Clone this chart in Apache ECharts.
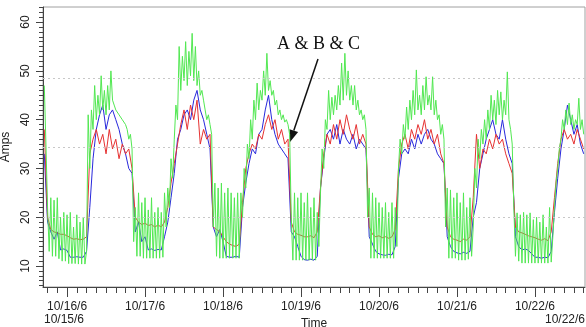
<!DOCTYPE html>
<html>
<head>
<meta charset="utf-8">
<script src="https://cdn.jsdelivr.net/npm/echarts@6/dist/echarts.min.js"></script>
<style>
html,body{margin:0;padding:0;background:#fff;}
#c{width:586px;height:327px;}
</style>
</head>
<body>
<div id="c"></div>
<script>
// Time in hours after 10/15/6 00:00
const startHour = 17;
const axisMinHour = 16.6;
const axisMaxHour = 183.4;
const dayHours = [24, 48, 72, 96, 120, 144, 168];
const dayLabels = ['10/16/6', '10/17/6', '10/18/6', '10/19/6', '10/20/6', '10/21/6', '10/22/6'];
const startLabel = '10/15/6';
const endLabel = '10/22/6';
const yTickValues = [10, 20, 30, 40, 50, 60];
const gridValues = [48.5, 34.3, 20];

// Red (hourly, from h17)
const redValues = [
  38, 20,
  17.5, 17, 16.8, 16.5, 16.5, 16.2, 15.8, 15.5, 15.6, 15.4, 15.5, 16,
  33, 36, 38, 35, 37, 33, 38, 34, 36, 32, 35, 33, 34, 30,
  20, 19, 18.5, 18.8, 18.3, 18.5, 18, 18.4, 18, 19,
  22, 27, 31, 35, 39, 42, 38, 43, 40, 44, 35, 38, 36, 37,
  18, 17.5, 17, 16, 15, 14.5, 14.2, 14, 14.5,
  23, 30, 33, 35, 34, 37, 36, 39, 41, 38, 40, 36, 38, 35, 36,
  19, 17, 16.5, 16.3, 16, 16, 16.2, 15.8, 17,
  26, 33, 37, 35, 39, 36, 40, 37, 41, 38, 36, 39, 35, 37, 35,
  18, 16.5, 16, 16.2, 15.8, 16, 15.7, 16, 17.5,
  30, 35, 37, 34, 38, 36, 39, 37, 40, 36, 38, 35, 37, 33, 31,
  18, 16, 15.5, 15.3, 15, 15.5, 15.3, 16,
  24, 37, 30, 34, 33, 36, 34, 37, 35, 36, 33, 31, 29,
  18, 17, 16.8, 16.5, 16.2, 16, 15.8, 15.5, 15.3, 15.6, 15.2, 17,
  24, 31, 36, 38, 36, 37, 35, 38, 36, 34
];

// Blue (hourly, from h17)
const blueValues = [
  33, 19,
  17, 15.5, 17, 13.3, 13.5, 13.2, 11.8, 11.8, 11.9, 11.8, 11.8, 13,
  22, 32, 38, 41, 43, 38, 41, 42, 40, 38, 35, 33, 30, 29,
  17, 19, 15, 16, 13.3, 13.5, 13.2, 13.4, 13.3, 16,
  19, 24, 29, 36, 38, 41, 42, 40, 44, 46, 42, 40, 37, 34,
  18, 16, 17.5, 15, 12, 11.8, 11.8, 12, 11.8,
  22, 27, 31, 34, 33, 37, 38, 42, 45, 40, 37, 35, 34, 33, 32,
  17, 16, 14, 12, 11.3, 11.2, 11.4, 11.2, 12,
  26, 32, 37, 38, 36, 39, 35, 38, 36, 35, 37, 34, 36, 35, 34,
  16, 14.5, 13, 12.5, 12.3, 12.2, 12.4, 12.3, 14,
  28, 33, 34, 33, 36, 34, 37, 35, 37, 38, 36, 35, 33, 32, 31,
  16, 14, 13, 12.7, 12.5, 12.8, 12.6, 13,
  20, 23, 30, 33, 36, 38, 40, 37, 36, 40, 36, 33, 31,
  16, 14, 13.3, 13.5, 13.2, 12.5, 11.8, 11.8, 11.6, 11.8, 11.7, 13,
  21, 28, 34, 38, 43, 40, 37, 39, 35, 33
];

// Green (half-hourly, from h17)
const greenValues = [
  47, 35, 22, 13,
  24, 12, 23.5, 12, 24, 11.5, 20, 11, 21, 11, 20.5, 10.5, 21, 10.5, 18, 10.5, 20.5, 10.4, 19, 10.4, 20, 10.4, 13,
  41, 30, 42, 38, 47, 40, 45, 41, 49, 42, 46, 41, 47, 42, 50, 44, 43, 42, 42, 41, 41, 40, 40, 39, 38, 36, 37, 34,
  15, 22, 12, 25, 12, 23, 11.6, 24, 11.6, 21.5, 11.6, 24, 11.6, 21, 11.6, 22, 11.6, 21, 11.8, 25,
  18, 26, 22, 32, 28, 36, 43, 40, 55, 46, 53, 48, 56, 47, 54, 49, 57.7, 48, 55, 47, 50, 45, 46, 44, 42, 40, 41, 39, 37,
  18, 27, 12, 26, 11.6, 27, 11.6, 25, 11.6, 26, 11.6, 25, 11.6, 24, 11.6, 25, 11.6, 25,
  20, 30, 26, 35, 32, 40, 36, 44, 40, 47.5, 42, 46, 44, 50, 45, 53.6, 46, 48, 45, 46, 43, 44, 41, 42, 40, 41, 39.5, 40, 39, 37,
  20, 11.2, 25, 11.2, 24, 11.2, 25, 11.2, 23, 11.2, 25, 11.2, 22, 11.2, 24, 11.2, 21, 14,
  25, 34, 30, 40, 38, 46, 40, 44.6, 41, 45, 42, 47, 43, 51.6, 44, 53.6, 45, 50, 44, 47, 43, 47, 42, 44, 41, 42, 40, 41, 38,
  20, 26, 11.6, 25, 11.6, 24, 11.6, 23, 11.6, 22, 11.6, 23, 11.6, 21, 11.6, 23, 11.6, 22, 14,
  30, 36, 33, 39, 36, 42.6, 38, 44, 40, 46, 41, 50.2, 42, 45, 41, 47, 42, 48.8, 43, 45, 42, 48.8, 41, 44, 40, 41, 37, 39, 36,
  18, 26, 11.6, 25.6, 11.6, 24, 11.6, 25, 11.2, 23, 11.2, 25, 11.2, 22, 11.4, 24, 12,
  18, 30, 26, 36, 32, 38, 35, 40, 36, 42, 38, 45, 40, 44, 39, 46, 41, 45.7, 40, 44, 41, 49.8, 40, 38, 35,
  22, 12, 20.9, 11, 20.5, 10.6, 21, 10.6, 20.5, 10.6, 20.9, 10.6, 19.5, 10.6, 20, 10.6, 19, 10.6, 20.5, 10.6, 18, 10.6, 22, 10.8, 16,
  22, 27, 30, 34, 36, 40, 38, 42, 39, 43.4, 39, 41, 38, 40, 39, 44.4, 38, 40, 37
];

function toPoints(vals, step) {
  return vals.map((v, i) => [startHour + i * step, v]);
}
const minorX = [];
for (let h = 18; h <= 183; h += 3) minorX.push(h);
const minorY = [];
for (let v = 6; v <= 63; v++) minorY.push(v);

const FONT = 'Liberation Sans, Arial, sans-serif';
const chart = echarts.init(document.getElementById('c'), null, {renderer: 'canvas'});
const lineSeries = (name, vals, step, color, z) => ({
  name, type: 'line', data: toPoints(vals, step), showSymbol: false, symbol: 'none',
  lineStyle: {width: 1, color}, itemStyle: {color}, z, animation: false, silent: true
});
const redS = lineSeries('C', redValues, 1, '#e63232', 3);
const blueS = lineSeries('B', blueValues, 1, '#2828dc', 2);
const greenS = lineSeries('A', greenValues, 0.5, '#52e852', 4);
blueS.markLine = {
  silent: true, symbol: 'none', label: {show: false}, animation: false,
  lineStyle: {type: [2, 3], color: '#c8c8c8', width: 1},
  data: gridValues.map(v => ({yAxis: v}))
};

chart.setOption({
  animation: false,
  backgroundColor: '#fff',
  grid: {left: 43, right: 1, top: 7, bottom: 40, show: true, borderColor: '#a0a0a0', borderWidth: 1,
    containLabel: false, outerBoundsMode: 'none'},
  xAxis: [
    {
      type: 'value', min: axisMinHour, max: axisMaxHour, position: 'bottom',
      name: 'Time', nameLocation: 'middle', nameGap: 27,
      nameTextStyle: {fontFamily: FONT, fontSize: 12, color: '#222'},
      axisLine: {show: true, lineStyle: {color: '#444', width: 1}},
      axisTick: {show: true, customValues: dayHours, length: 10, lineStyle: {color: '#444'}},
      axisLabel: {show: true, customValues: dayHours, margin: 14, fontFamily: FONT, fontSize: 12, color: '#222',
        formatter: v => dayLabels[dayHours.indexOf(Math.round(v))] || ''},
      splitLine: {show: false}
    },
    {
      type: 'value', min: axisMinHour, max: axisMaxHour, position: 'bottom',
      axisLine: {show: false},
      axisTick: {show: true, customValues: minorX, length: 6, lineStyle: {color: '#444'}},
      axisLabel: {show: false}, splitLine: {show: false}
    }
  ],
  yAxis: [
    {
      type: 'value', min: 5.7, max: 63.1, position: 'left',
      name: 'Amps', nameLocation: 'middle', nameGap: 25, nameRotate: 90,
      nameTextStyle: {fontFamily: FONT, fontSize: 12, color: '#222'},
      axisLine: {show: true, lineStyle: {color: '#444', width: 1}},
      axisTick: {show: true, customValues: yTickValues, length: 7, lineStyle: {color: '#444'}},
      axisLabel: {show: true, customValues: yTickValues, rotate: 90, margin: 11, fontFamily: FONT, fontSize: 12, color: '#222'},
      splitLine: {show: false}
    },
    {
      type: 'value', min: 5.7, max: 63.1, position: 'left',
      axisLine: {show: false},
      axisTick: {show: true, customValues: minorY, length: 4, lineStyle: {color: '#444'}},
      axisLabel: {show: false}, splitLine: {show: false}
    }
  ],
  series: [blueS, redS, greenS],
  graphic: [
    {type: 'text', left: 44, top: 314, style: {text: startLabel, font: '12px ' + FONT, fill: '#222'}},
    {type: 'text', right: 1, top: 314, style: {text: endLabel, font: '12px ' + FONT, fill: '#222'}},
    {type: 'text', x: 277, y: 44, style: {text: 'A & B & C', font: '18px Liberation Serif, Times New Roman, serif', fill: '#111', textVerticalAlign: 'middle'}},
    {type: 'line', shape: {x1: 318, y1: 59, x2: 293.8, y2: 130.6}, style: {stroke: '#111', lineWidth: 1.5}},
    {type: 'polygon', shape: {points: [[290, 142], [298.1, 132.0], [289.5, 129.2]]}, style: {fill: '#111'}}
  ]
});
</script>
</body>
</html>
